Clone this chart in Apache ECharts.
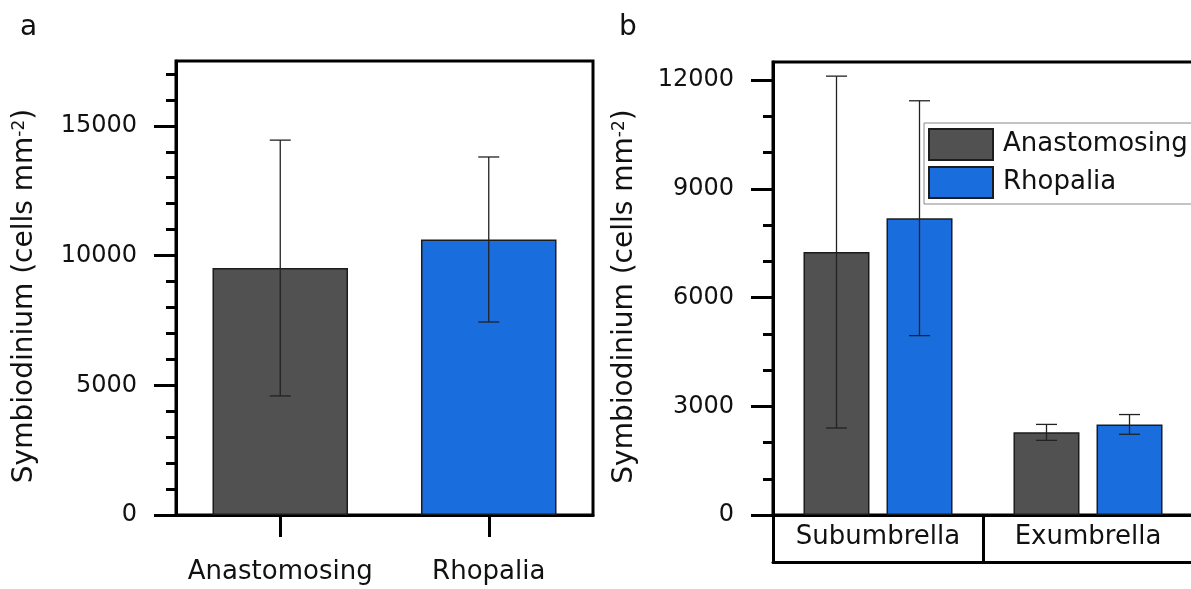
<!DOCTYPE html>
<html>
<head>
<meta charset="utf-8">
<script src="https://cdn.jsdelivr.net/npm/echarts@6/dist/echarts.min.js"></script>
<style>
html,body{margin:0;padding:0;background:#fff;}
#c{width:1191px;height:589px;}
</style>
</head>
<body>
<div id="c"></div>
<script>
// ---- data ----
const categoriesA = ['Anastomosing', 'Rhopalia'];
const meanA = [9520, 10620];
const sdA = [4930, 3180];

const categoriesB = ['Subumbrella', 'Exumbrella'];
const seriesNamesB = ['Anastomosing', 'Rhopalia'];
const anastomosingB = [7255, 2280];
const anastomosingSdB = [4855, 220];
const rhopaliaB = [8190, 2500];
const rhopaliaSdB = [3240, 272];

const yMaxA = 17500;
const yTicksA = [0, 5000, 10000, 15000];
const yMinorA = [1000, 2000, 3000, 4000, 6000, 7000, 8000, 9000, 11000, 12000, 13000, 14000, 16000, 17000];
const yMaxB = 12500;
const yTicksB = [0, 3000, 6000, 9000, 12000];
const yMinorB = [1000, 2000, 4000, 5000, 7000, 8000, 10000, 11000];

const yTitle = '{t|Symbiodinium (cells mm}{s|-2}{t|)}';

// ---- style ----
const DARK = '#515151';
const BLUE = '#1a6ddc';
const EDGE = '#1c1c1c';
const ERR = '#222';
const FONT = 'DejaVu Sans';
const TXT = '#111';
const CAP = 21;

function errRender(offsetFrac) {
  return function (params, api) {
    const i = api.value(0), m = api.value(1), s = api.value(2);
    const band = api.size([1, 0])[0];
    const top = api.coord([i, m + s]);
    const bot = api.coord([i, m - s]);
    const x = top[0] + offsetFrac * band;
    const hw = CAP / 2;
    const style = { stroke: ERR, lineWidth: 1.3 };
    return {
      type: 'group',
      children: [
        { type: 'line', shape: { x1: x, y1: top[1], x2: x, y2: bot[1] }, style: style },
        { type: 'line', shape: { x1: x - hw, y1: top[1], x2: x + hw, y2: top[1] }, style: style },
        { type: 'line', shape: { x1: x - hw, y1: bot[1], x2: x + hw, y2: bot[1] }, style: style }
      ]
    };
  };
}

const richTitle = {
  t: { fontFamily: FONT, fontSize: 28, color: TXT },
  s: { fontFamily: FONT, fontSize: 17, color: TXT, verticalAlign: 'top' }
};

function plain(v) { return String(v); }

function majorY(gridIndex, max, ticks, nameGap) {
  return {
    type: 'value', gridIndex: gridIndex, position: 'left', min: 0, max: max,
    name: yTitle, nameLocation: 'middle', nameRotate: 90, nameGap: nameGap,
    nameTextStyle: { rich: richTitle, padding: [0, 16, 0, 0] },
    axisLine: { show: true, lineStyle: { color: '#000', width: 3 } },
    axisTick: { show: true, length: 22, lineStyle: { color: '#000', width: 3 }, customValues: ticks },
    axisLabel: { show: true, margin: 39, fontFamily: FONT, fontSize: 24, color: TXT, customValues: ticks, formatter: plain },
    splitLine: { show: false }
  };
}
function minorY(gridIndex, max, ticks) {
  return {
    type: 'value', gridIndex: gridIndex, position: 'left', min: 0, max: max,
    axisLine: { show: false },
    axisTick: { show: true, length: 10, lineStyle: { color: '#000', width: 3 }, customValues: ticks },
    axisLabel: { show: false },
    splitLine: { show: false }
  };
}

const barWidthFracB = 66 / 210;
const barGapPxFracB = 17 / 210;
const offB = (barWidthFracB + barGapPxFracB) / 2;

const option = {
  animation: false,
  backgroundColor: '#fff',
  textStyle: { fontFamily: FONT },
  title: [
    { text: 'a', left: 15, top: 9, textStyle: { fontFamily: FONT, fontSize: 28, fontWeight: 'normal', color: TXT } },
    { text: 'b', left: 614, top: 9, textStyle: { fontFamily: FONT, fontSize: 28, fontWeight: 'normal', color: TXT } }
  ],
  legend: {
    data: seriesNamesB,
    orient: 'vertical', left: 924, top: 123,
    itemWidth: 64, itemHeight: 31, itemGap: 5,
    padding: [5, 12, 5, 4],
    backgroundColor: '#fff', borderColor: '#888', borderWidth: 1, borderRadius: 0,
    icon: 'rect', selectedMode: false,
    textStyle: { fontFamily: FONT, fontSize: 26, color: TXT, padding: [0, 0, 0, 5] }
  },
  grid: [
    { left: 176, right: 598, top: 61, bottom: 74, show: true, borderColor: '#000', borderWidth: 3, backgroundColor: 'transparent', outerBoundsMode: 'none', containLabel: false },
    { left: 773, right: -2, top: 62, bottom: 74, show: true, borderColor: '#000', borderWidth: 3, backgroundColor: 'transparent', outerBoundsMode: 'none', containLabel: false }
  ],
  xAxis: [
    {
      type: 'category', gridIndex: 0, data: categoriesA, position: 'bottom',
      axisLine: { show: true, lineStyle: { color: '#000', width: 3 } },
      axisTick: { show: true, alignWithLabel: true, length: 22, lineStyle: { color: '#000', width: 3 } },
      axisLabel: { margin: 44, fontFamily: FONT, fontSize: 26, color: TXT, interval: 0 },
      splitLine: { show: false }
    },
    {
      type: 'category', gridIndex: 1, data: categoriesB, position: 'bottom',
      axisLine: { show: true, lineStyle: { color: '#000', width: 3 } },
      axisTick: { show: true, alignWithLabel: false, interval: 0, length: 47, lineStyle: { color: '#000', width: 3 } },
      axisLabel: { margin: 9, fontFamily: FONT, fontSize: 26, color: TXT, interval: 0 },
      splitLine: { show: false }
    },
    {
      type: 'category', gridIndex: 1, data: categoriesB, position: 'bottom', offset: 47,
      axisLine: { show: true, onZero: false, lineStyle: { color: '#000', width: 3 } },
      axisTick: { show: false },
      axisLabel: { show: false },
      splitLine: { show: false }
    }
  ],
  yAxis: [
    majorY(0, yMaxA, yTicksA, 137),
    minorY(0, yMaxA, yMinorA),
    majorY(1, yMaxB, yTicksB, 134),
    minorY(1, yMaxB, yMinorB)
  ],
  series: [
    {
      name: 'Panel a', type: 'bar', xAxisIndex: 0, yAxisIndex: 0,
      barWidth: '65%',
      itemStyle: { borderColor: EDGE, borderWidth: 1.5 },
      data: meanA.map(function (v, i) { return { value: v, itemStyle: { color: i === 0 ? DARK : BLUE } }; }),
      z: 2
    },
    {
      name: 'Panel a error', type: 'custom', xAxisIndex: 0, yAxisIndex: 0,
      renderItem: errRender(0),
      encode: { x: 0, y: 1 },
      data: meanA.map(function (v, i) { return [i, v, sdA[i]]; }),
      z: 5
    },
    {
      name: seriesNamesB[0], type: 'bar', xAxisIndex: 1, yAxisIndex: 2,
      barWidth: (barWidthFracB * 100).toFixed(2) + '%', barGap: (17 / 66 * 100).toFixed(1) + '%',
      itemStyle: { color: DARK, borderColor: EDGE, borderWidth: 1.5 },
      data: anastomosingB, z: 2
    },
    {
      name: seriesNamesB[1], type: 'bar', xAxisIndex: 1, yAxisIndex: 2,
      barWidth: (barWidthFracB * 100).toFixed(2) + '%', barGap: (17 / 66 * 100).toFixed(1) + '%',
      itemStyle: { color: BLUE, borderColor: EDGE, borderWidth: 1.5 },
      data: rhopaliaB, z: 2
    },
    {
      name: 'Anastomosing error', type: 'custom', xAxisIndex: 1, yAxisIndex: 2,
      renderItem: errRender(-offB),
      encode: { x: 0, y: 1 },
      data: anastomosingB.map(function (v, i) { return [i, v, anastomosingSdB[i]]; }),
      z: 5
    },
    {
      name: 'Rhopalia error', type: 'custom', xAxisIndex: 1, yAxisIndex: 2,
      renderItem: errRender(offB),
      encode: { x: 0, y: 1 },
      data: rhopaliaB.map(function (v, i) { return [i, v, rhopaliaSdB[i]]; }),
      z: 5
    }
  ]
};

const chart = echarts.init(document.getElementById('c'), null, { renderer: 'canvas' });
chart.setOption(option);
</script>
</body>
</html>
